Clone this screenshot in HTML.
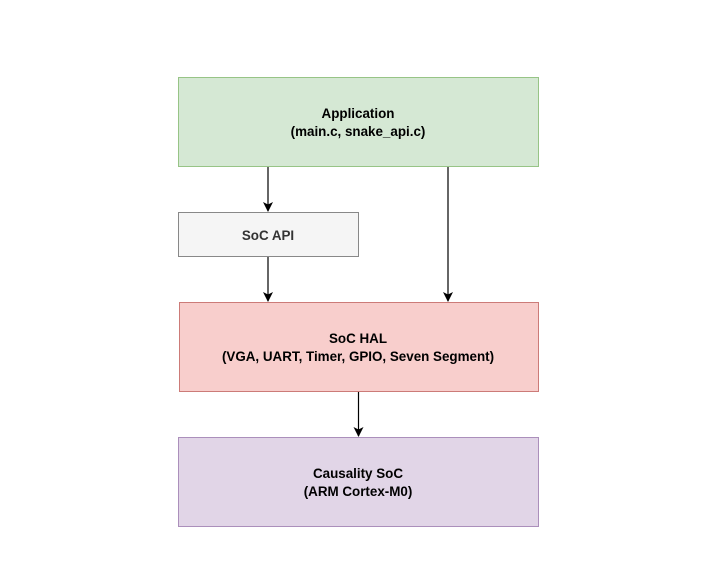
<!DOCTYPE html>
<html><head><style>body{margin:0;background:#fff}</style></head><body>
<svg width="728" height="561" xmlns="http://www.w3.org/2000/svg" font-family="Liberation Sans, Arial, sans-serif" font-size="13.4" font-weight="bold" text-anchor="middle">
<defs><marker id="a" markerWidth="10" markerHeight="10" refX="9" refY="5" orient="auto" markerUnits="userSpaceOnUse"><path d="M0,0 L10,5 L0,10 L2.5,5 Z" fill="#000"/></marker></defs>
<rect x="178.5" y="77.5" width="360" height="89" fill="#d5e8d4" stroke="#97c486"/>
<text x="358" y="118">Application</text><text x="358" y="136">(main.c, snake_api.c)</text>
<rect x="178.5" y="212.5" width="180" height="44" fill="#f5f5f5" stroke="#888"/>
<text x="268" y="240" fill="#333">SoC API</text>
<rect x="179.5" y="302.5" width="359" height="89" fill="#f8cecc" stroke="#cc7b78"/>
<text x="358" y="343">SoC HAL</text><text x="358" y="361">(VGA, UART, Timer, GPIO, Seven Segment)</text>
<rect x="178.5" y="437.5" width="360" height="89" fill="#e1d5e7" stroke="#ab8fbb"/>
<text x="358" y="478">Causality SoC</text><text x="358" y="496">(ARM Cortex-M0)</text>
<g stroke="#000" stroke-width="1.2">
<line x1="268" y1="167" x2="268" y2="211" marker-end="url(#a)"/>
<line x1="268" y1="257" x2="268" y2="301" marker-end="url(#a)"/>
<line x1="448" y1="167" x2="448" y2="301" marker-end="url(#a)"/>
<line x1="358.5" y1="392" x2="358.5" y2="436" marker-end="url(#a)"/>
</g>
</svg>
</body></html>
